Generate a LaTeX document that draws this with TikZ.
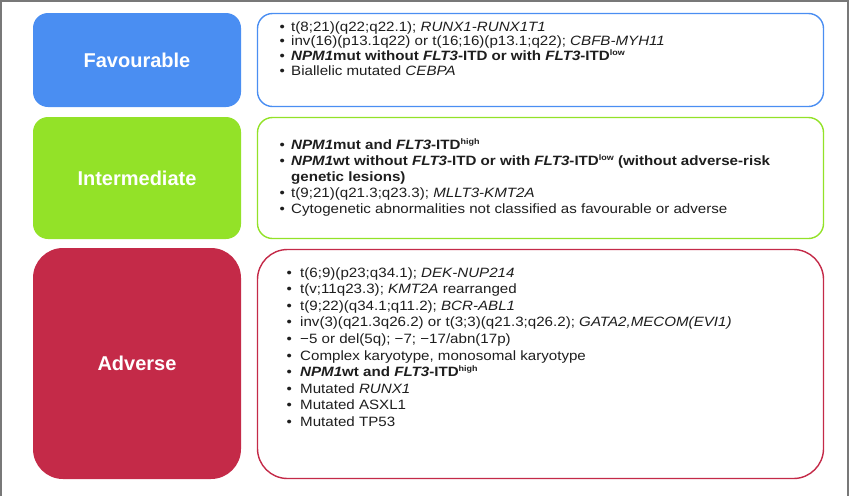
\documentclass[tikz,border=0pt]{standalone}
\usepackage{fontspec}
\setmainfont{Liberation Sans}
\newfontfamily\listfont{Liberation Sans}[FakeStretch=1.12]
\definecolor{favc}{RGB}{74,142,242}
\definecolor{intc}{RGB}{147,226,40}
\definecolor{advc}{RGB}{196,42,72}
\definecolor{framec}{RGB}{120,120,120}
\definecolor{txtc}{RGB}{30,30,30}
\newcommand{\bl}{\makebox[11.5pt][l]{•}}
\newcommand{\nb}{\makebox[11.5pt][l]{}}
\newcommand{\bla}{\makebox[13.5pt][l]{•}}
\newcommand{\supx}[1]{\raisebox{4.8pt}{\fontsize{8}{8}\selectfont #1}}
\begin{document}
\begin{tikzpicture}[x=1pt,y=-1pt,
  catbox/.style={rounded corners=15pt, inner sep=0pt, text=white,
    font=\fontsize{20}{24}\selectfont\bfseries},
  listbox/.style={draw, rounded corners=15pt, line width=1.4pt, fill=white, inner sep=0pt},
  item/.style={anchor=base west, inner sep=0pt, text=txtc,
    font=\listfont\fontsize{13.5}{15}\selectfont}]
\useasboundingbox (0,0) rectangle (850,496);
\draw[framec, line width=1.5pt] (0.75,496) -- (0.75,0.75) -- (848.2,0.75) -- (848.2,496);

% left category boxes
\node[catbox, fill=favc, minimum width=208pt, minimum height=94pt] (favL) at (137,60) {Favourable};
\node[catbox, fill=intc, minimum width=208pt, minimum height=122pt] (intL) at (137,178) {Intermediate};
\node[catbox, fill=advc, minimum width=208pt, minimum height=231pt, rounded corners=30pt] (advL) at (137,363.5) {Adverse};

% right list boxes
\node[listbox, draw=favc, minimum width=566pt, minimum height=93pt] (favR) at (540.5,60) {};
\node[listbox, draw=intc, minimum width=566pt, minimum height=121pt] (intR) at (540.5,178) {};
\node[listbox, draw=advc, minimum width=566pt, minimum height=229pt, rounded corners=30pt] (advR) at (540.5,364) {};

% favourable items
\node[item] (f1) at (279.5,31) {\bl t(8;21)(q22;q22.1); \textit{RUNX1-RUNX1T1}};
\node[item] (f2) at (279.5,45.7) {\bl inv(16)(p13.1q22) or t(16;16)(p13.1;q22); \textit{CBFB-MYH11}};
\node[item] (f3) at (279.5,60.4) {\bl \textbf{\textit{NPM1}mut without \textit{FLT3}-ITD or with \textit{FLT3}-ITD\supx{low}}};
\node[item] (f4) at (279.5,75.1) {\bl Biallelic mutated \textit{CEBPA}};

% intermediate items
\node[item] (i1) at (279.5,149.5) {\bl \textbf{\textit{NPM1}mut and \textit{FLT3}-ITD\supx{high}}};
\node[item] (i2) at (279.5,165.5) {\bl \textbf{\textit{NPM1}wt without \textit{FLT3}-ITD or with \textit{FLT3}-ITD\supx{low} (without adverse-risk}};
\node[item] (i3) at (279.5,181) {\nb \textbf{genetic lesions)}};
\node[item] (i4) at (279.5,197) {\bl t(9;21)(q21.3;q23.3); \textit{MLLT3-KMT2A}};
\node[item] (i5) at (279.5,213) {\bl Cytogenetic abnormalities not classified as favourable or adverse};

% adverse items
\node[item] (a1) at (286.5,277) {\bla t(6;9)(p23;q34.1); \textit{DEK-NUP214}};
\node[item] (a2) at (286.5,293.6) {\bla t(v;11q23.3); \textit{KMT2A} rearranged};
\node[item] (a3) at (286.5,310.2) {\bla t(9;22)(q34.1;q11.2); \textit{BCR-ABL1}};
\node[item] (a4) at (286.5,326.8) {\bla inv(3)(q21.3q26.2) or t(3;3)(q21.3;q26.2); \textit{GATA2,MECOM(EVI1)}};
\node[item] (a5) at (286.5,343.4) {\bla −5 or del(5q); −7; −17/abn(17p)};
\node[item] (a6) at (286.5,360) {\bla Complex karyotype, monosomal karyotype};
\node[item] (a7) at (286.5,376.6) {\bla \textbf{\textit{NPM1}wt and \textit{FLT3}-ITD\supx{high}}};
\node[item] (a8) at (286.5,393.2) {\bla Mutated \textit{RUNX1}};
\node[item] (a9) at (286.5,409.8) {\bla Mutated ASXL1};
\node[item] (a10) at (286.5,426.4) {\bla Mutated TP53};
\end{tikzpicture}
\end{document}
